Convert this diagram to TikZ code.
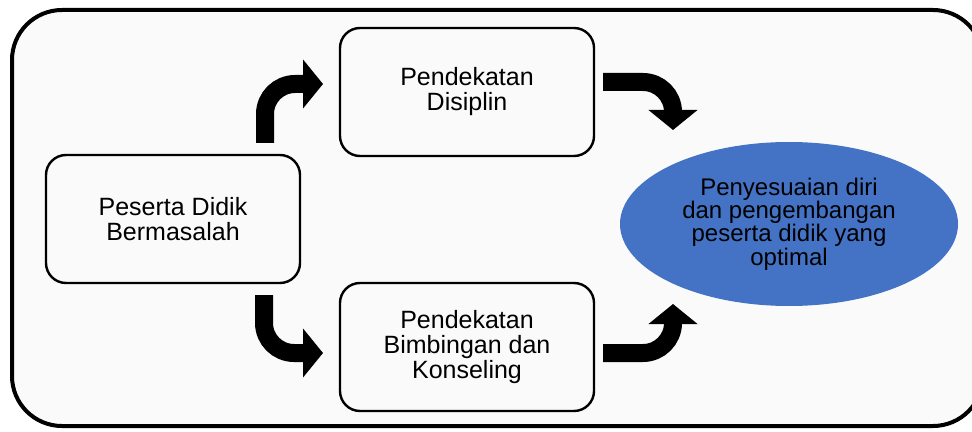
\documentclass[tikz,border=0pt]{standalone}
\usepackage{fontspec}
\setmainfont{Liberation Sans}
\usetikzlibrary{arrows.meta,shapes.geometric}
\definecolor{goalblue}{RGB}{68,114,196}

\begin{document}
\begin{tikzpicture}[x=0.5pt,y=-0.5pt,
  box/.style={draw, line width=1.2pt, rounded corners=10pt, fill=black!2,
    minimum width=127pt, minimum height=64pt, align=center,
    font=\fontsize{12.5}{12.5}\selectfont},
  bentarrow/.style={line width=9pt, rounded corners=15pt,
    -{Triangle[width=24pt,length=10pt]}}]

% Draw the frame
\clip (0,0) rectangle (972,432);
\fill[white] (0,0) rectangle (972,432);
\draw[line width=2pt, rounded corners=25pt, fill=black!2] (12,10) rectangle (983,426);

% Draw the boxes
\node[box] (student) at (173,219) {Peserta Didik\\Bermasalah};
\node[box] (discipline) at (467,92) {Pendekatan\\Disiplin};
\node[box] (counsel) at (467,347) {Pendekatan\\Bimbingan dan\\Konseling};

% Draw the goal (blue ellipse)
\node[ellipse, fill=goalblue, inner sep=0pt, minimum width=169pt, minimum height=82pt,
  align=center, font=\fontsize{12}{11.6}\selectfont] (goal) at (789,224)
  {Penyesuaian diri\\dan pengembangan\\peserta didik yang\\optimal};

% Draw the arrows
\coordinate (upfrom) at (265,143);
\coordinate (upto) at (323,84);
\coordinate (downfrom) at (264,295);
\coordinate (downto) at (323,353);
\coordinate (topfrom) at (603,82);
\coordinate (topto) at (673,130);
\coordinate (botfrom) at (603,353);
\coordinate (botto) at (673,304);

\draw[bentarrow] (upfrom) |- (upto);
\draw[bentarrow] (downfrom) |- (downto);
\draw[bentarrow] (topfrom) -| (topto);
\draw[bentarrow] (botfrom) -| (botto);

\end{tikzpicture}
\end{document}
